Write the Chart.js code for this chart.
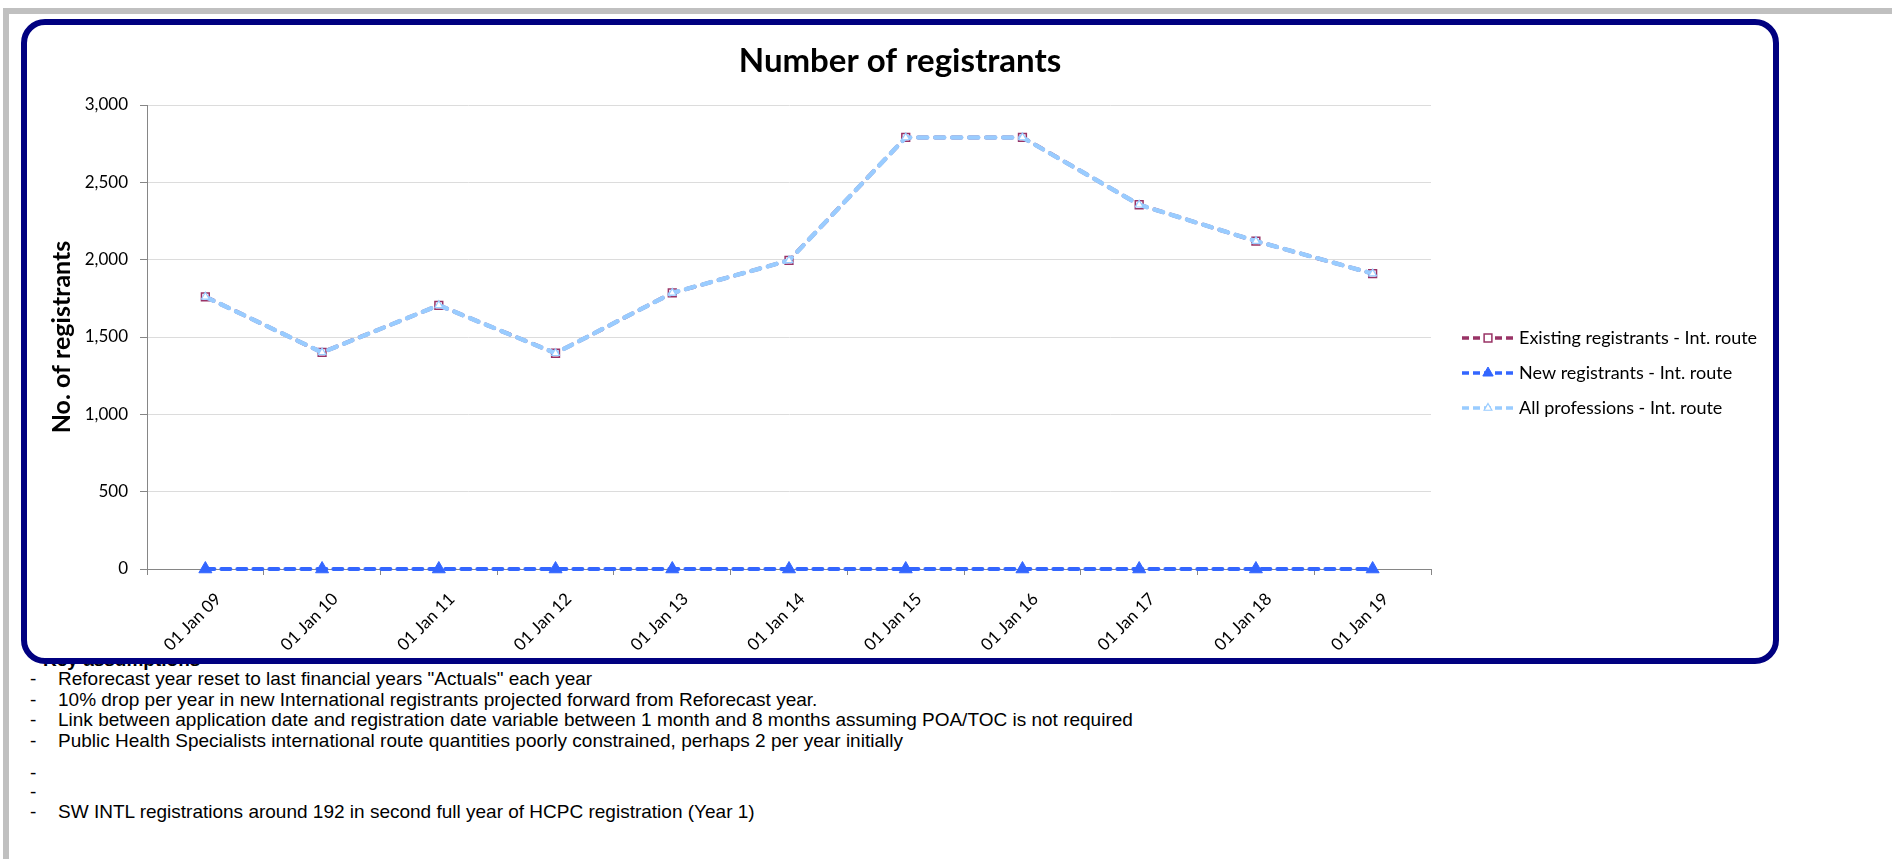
<!DOCTYPE html>
<html>
<head>
<meta charset="utf-8">
<script src="https://cdn.jsdelivr.net/npm/chart.js@4/dist/chart.umd.min.js"></script>
<style>
    body { margin: 0; background: #fff; width: 1892px; height: 859px; overflow: hidden; position: relative; }
    .frameTop { position: absolute; left: 3px; top: 8px; width: 1889px; height: 6px; background: #c0c0c0; }
    .frameLeft { position: absolute; left: 3px; top: 8px; width: 6px; height: 851px; background: #c0c0c0; }
    .box { position: absolute; left: 21px; top: 19px; width: 1758px; height: 645px; box-sizing: border-box;
           border: 6px solid #000080; border-radius: 24px; background: #fff; z-index: 2; }
    .chartWrap { position: absolute; left: 21px; top: 0; width: 1758px; height: 700px; z-index: 3; }
    .notes { position: absolute; left: 0; top: 0; z-index: 1; font-family: "Liberation Sans", Arial, sans-serif;
             font-size: 19px; color: #000; }
    .notes div { position: absolute; white-space: nowrap; line-height: 20px; }
    .notes .dash { left: 30px; }
    .notes .txt { left: 58px; }
    .notes .head { left: 43px; font-weight: bold; }
</style>
</head>
<body>
<div class="frameTop"></div>
<div class="frameLeft"></div>
<div class="box"></div>
<div class="chartWrap"><canvas id="regChart"></canvas></div>
<div class="notes" id="notes"></div>

<script>
// chart data
const years = ['01 Jan 09', '01 Jan 10', '01 Jan 11', '01 Jan 12', '01 Jan 13', '01 Jan 14',
               '01 Jan 15', '01 Jan 16', '01 Jan 17', '01 Jan 18', '01 Jan 19'];
const existingIntl = [1760, 1400, 1705, 1395, 1785, 1995, 2790, 2790, 2355, 2120, 1910];
const newIntl = [0, 0, 0, 0, 0, 0, 0, 0, 0, 0, 0];
const allProfIntl = [1760, 1400, 1705, 1395, 1785, 1995, 2790, 2790, 2355, 2120, 1910];
const seriesNames = ['Existing registrants - Int. route', 'New registrants - Int. route', 'All professions - Int. route'];
const yTicks = [0, 500, 1000, 1500, 2000, 2500, 3000];

const notesTitle = 'Key assumptions';
const notesLines = [
    'Reforecast year reset to last financial years "Actuals" each year',
    '10% drop per year in new International registrants projected forward from Reforecast year.',
    'Link between application date and registration date variable between 1 month and 8 months assuming POA/TOC is not required',
    'Public Health Specialists international route quantities poorly constrained, perhaps 2 per year initially',
    '',
    '',
    'SW INTL registrations around 192 in second full year of HCPC registration (Year 1)'
];
// row tops of the notes (the header sits mostly behind the chart box)
const notesTops = [669, 689.5, 710, 730.5, 763, 782, 802];

const notesEl = document.getElementById('notes');
let notesHtml = '<div class="head" style="top:650px">' + notesTitle + '</div>';
notesLines.forEach((t, i) => {
    notesHtml += '<div class="dash" style="top:' + notesTops[i] + 'px">-</div>';
    if (t) notesHtml += '<div class="txt" style="top:' + notesTops[i] + 'px">' + t + '</div>';
});
notesEl.innerHTML = notesHtml;

// legend drawn as line sample + marker, like the spreadsheet legend
const lineLegend = {
    id: 'lineLegend',
    afterDraw(chart) {
        const ctx = chart.ctx;
        const x0 = chart.chartArea.right + 31;
        const sampleW = 52;
        chart.data.datasets.forEach((ds, i) => {
            const y = 338 + i * 35;
            ctx.save();
            ctx.strokeStyle = ds.borderColor;
            ctx.lineWidth = 3.5;
            ctx.setLineDash([7, 4]);
            ctx.beginPath();
            ctx.moveTo(x0, y);
            ctx.lineTo(x0 + sampleW, y);
            ctx.stroke();
            ctx.setLineDash([]);
            ctx.fillStyle = ds.pointBackgroundColor;
            ctx.strokeStyle = ds.pointBorderColor;
            ctx.lineWidth = ds.pointBorderWidth;
            Chart.helpers.drawPoint(ctx, {
                pointStyle: ds.pointStyle, radius: Math.min(ds.pointRadius, 6), borderWidth: ds.pointBorderWidth, rotation: 0
            }, x0 + sampleW / 2, y);
            ctx.fillStyle = '#000';
            ctx.font = '18px Lato';
            ctx.textBaseline = 'middle';
            ctx.fillText(ds.label, x0 + sampleW + 5, y);
            ctx.restore();
        });
    }
};

const ctx = document.getElementById('regChart').getContext('2d');
window.regChart = new Chart(ctx, {
    type: 'line',
    data: {
        labels: years,
        datasets: [{
            label: seriesNames[0],
            data: existingIntl,
            borderColor: '#993366',
            borderWidth: 4,
            borderDash: [9, 8],
            borderCapStyle: 'round',
            pointStyle: 'rect',
            pointRadius: 5.5,
            pointBorderWidth: 1.5,
            pointBorderColor: '#993366',
            pointBackgroundColor: '#ffffff',
            clip: false,
            order: 2
        }, {
            label: seriesNames[1],
            data: newIntl,
            borderColor: '#3366FF',
            borderWidth: 4,
            borderDash: [9, 7],
            borderCapStyle: 'round',
            pointStyle: 'triangle',
            pointRadius: 7.5,
            pointBorderWidth: 1,
            pointBorderColor: '#3366FF',
            pointBackgroundColor: '#3366FF',
            clip: false,
            order: 1
        }, {
            label: seriesNames[2],
            data: allProfIntl,
            borderColor: '#99CCFF',
            borderWidth: 4.5,
            borderDash: [9, 8],
            borderCapStyle: 'round',
            pointStyle: 'triangle',
            pointRadius: 4.5,
            pointBorderWidth: 1.2,
            pointBorderColor: '#99CCFF',
            pointBackgroundColor: '#ffffff',
            clip: false,
            order: 0
        }]
    },
    options: {
        responsive: true,
        maintainAspectRatio: false,
        animation: false,
        events: [],
        layout: { padding: 0 },
        plugins: {
            legend: { display: false },
            tooltip: { enabled: false },
            title: {
                display: true,
                text: 'Number of registrants',
                color: '#000',
                font: { family: 'Lato', size: 33, weight: 'bold' },
                padding: { top: 42, bottom: 23.4 }
            }
        },
        scales: {
            x: {
                offset: true,
                grid: { offset: true, drawOnChartArea: false, drawTicks: true, tickLength: 6, tickColor: '#868686' },
                border: { color: '#868686', width: 1 },
                ticks: {
                    color: '#000',
                    font: { family: 'Lato', size: 17 },
                    minRotation: 45,
                    maxRotation: 45,
                    autoSkip: false,
                    padding: 14,
                    labelOffset: 13
                },
                afterFit: s => { s.height = 131; }
            },
            y: {
                min: 0,
                max: 3000,
                afterBuildTicks: s => { s.ticks = yTicks.map(v => ({ value: v })); },
                grid: { color: '#dcdcdc', tickColor: '#868686', tickLength: 7 },
                border: { color: '#868686', width: 1 },
                ticks: {
                    color: '#000',
                    font: { family: 'Lato', size: 17 },
                    padding: 12
                },
                title: {
                    display: true,
                    text: 'No. of registrants',
                    color: '#000',
                    font: { family: 'Lato', size: 25, weight: 'bold' },
                    padding: { top: 26, bottom: 0 }
                },
                afterFit: s => { s.width = 126; }
            },
            // empty right axis keeps room for the legend
            yRight: {
                position: 'right',
                display: true,
                grid: { display: false },
                border: { display: false },
                ticks: { display: false },
                afterFit: s => { s.width = 348; }
            }
        }
    },
    plugins: [lineLegend]
});
</script>
</body>
</html>
